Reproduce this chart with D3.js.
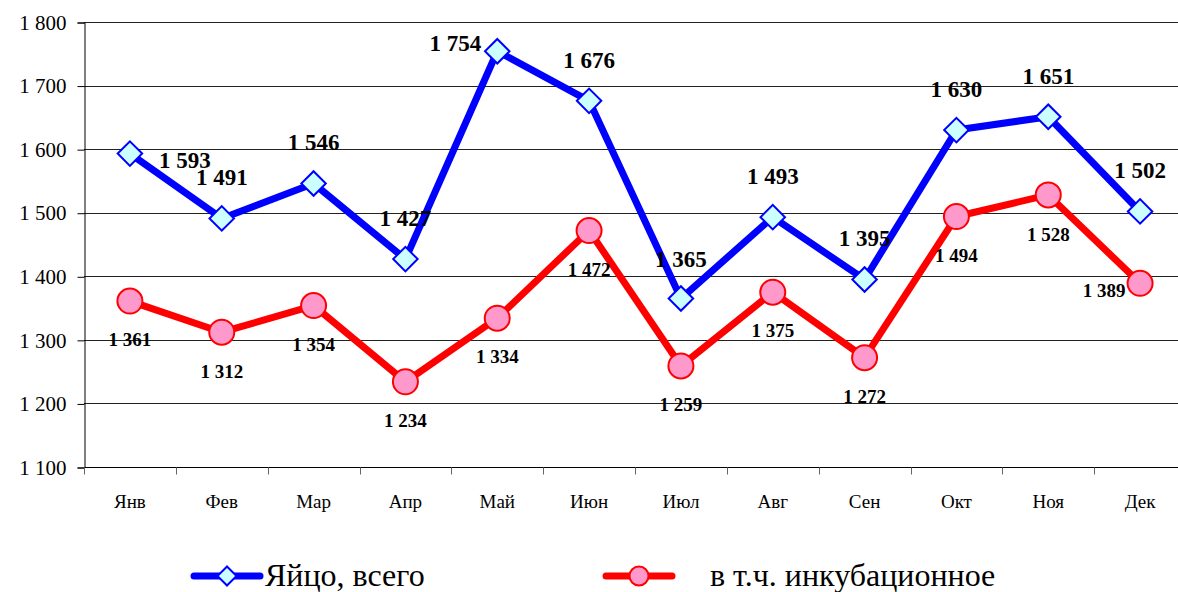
<!DOCTYPE html>
<html>
<head>
<meta charset="utf-8">
<script src="https://cdn.jsdelivr.net/npm/d3@7"></script>
</head>
<body style="margin:0">
<script>
// chart values
var months = ['Янв', 'Фев', 'Мар', 'Апр', 'Май', 'Июн', 'Июл', 'Авг', 'Сен', 'Окт', 'Ноя', 'Дек'];
var eggsTotal = [1593, 1491, 1546, 1427, 1754, 1676, 1365, 1493, 1395, 1630, 1651, 1502];
var eggsHatch = [1361, 1312, 1354, 1234, 1334, 1472, 1259, 1375, 1272, 1494, 1528, 1389];
var yTicks = [1100, 1200, 1300, 1400, 1500, 1600, 1700, 1800];
var seriesNames = ['Яйцо, всего', 'в т.ч. инкубационное'];

// label offsets (dx, dy from the point), as placed in the original
var totalLabelPos = [[55, 14], [0, -33], [0, -33], [0, -33], [-42, 0], [0, -33], [0, -32], [0, -33], [0, -33], [0, -33], [0, -33], [0, -33]];
var hatchLabelPos = [[0, 45], [0, 46], [0, 45], [0, 45], [0, 45], [0, 45], [0, 45], [0, 45], [0, 45], [0, 45], [0, 46], [-36, 14]];

var width = 1178, height = 592;
var plotLeft = 84, plotRight = 1186, plotTop = 22, plotBottom = 467;
var fontName = '"Liberation Serif", Tinos, "Times New Roman", serif';

var svg = d3.select('body').append('svg').attr('width', width).attr('height', height)
	.attr('font-family', fontName);

var x = d3.scaleBand().domain(months).range([plotLeft, plotRight]);
var y = d3.scaleLinear().domain([1100, 1800]).range([plotBottom, plotTop]);
var cx = d => x(d) + x.bandwidth() / 2;
var fmt = d => d3.format(',')(d).replace(',', ' ');

// grid lines
svg.append('g').selectAll('line').data(yTicks.slice(1)).enter().append('line')
	.attr('x1', plotLeft).attr('x2', plotRight)
	.attr('y1', d => Math.round(y(d)) + 0.5).attr('y2', d => Math.round(y(d)) + 0.5)
	.attr('stroke', '#222').attr('stroke-width', 1);

// y axis
var yAxis = svg.append('g').attr('transform', 'translate(' + (plotLeft + 0.5) + ',0.5)')
	.call(d3.axisLeft(y).tickValues(yTicks).tickSize(7).tickPadding(11).tickFormat(fmt));
yAxis.attr('font-family', fontName).attr('font-size', 21);
yAxis.select('.domain').attr('stroke', '#000');
yAxis.selectAll('line').attr('stroke', '#000');
yAxis.selectAll('text').attr('font-family', fontName).attr('fill', '#000');

// x axis with ticks on band boundaries
var xAxis = svg.append('g').attr('transform', 'translate(0,' + (Math.round(plotBottom) + 0.5) + ')');
xAxis.append('line').attr('x1', plotLeft).attr('x2', plotRight).attr('stroke', '#000');
xAxis.selectAll('.tk').data(months).enter().append('line').attr('class', 'tk')
	.attr('x1', d => Math.round(x(d)) + 0.5).attr('x2', d => Math.round(x(d)) + 0.5)
	.attr('y1', 0).attr('y2', 7).attr('stroke', '#666');
xAxis.selectAll('text').data(months).enter().append('text')
	.attr('x', cx).attr('y', 40).attr('text-anchor', 'middle')
	.attr('font-family', fontName).attr('font-size', 19).attr('fill', '#000').text(d => d);

var line = d3.line().x((d, i) => cx(months[i])).y(d => y(d));

// hatch eggs series
svg.append('path').datum(eggsHatch).attr('d', line)
	.attr('fill', 'none').attr('stroke', '#ff0000').attr('stroke-width', 7).attr('stroke-linejoin', 'round');
svg.append('g').selectAll('circle').data(eggsHatch).enter().append('circle')
	.attr('cx', (d, i) => cx(months[i])).attr('cy', d => y(d)).attr('r', 12.5)
	.attr('fill', '#ff99cc').attr('stroke', '#ff0000').attr('stroke-width', 2);

// total eggs series
svg.append('path').datum(eggsTotal).attr('d', line)
	.attr('fill', 'none').attr('stroke', '#0000ff').attr('stroke-width', 7).attr('stroke-linejoin', 'round');
var diamond = d3.symbol().type(d3.symbolSquare).size(300);
svg.append('g').selectAll('path').data(eggsTotal).enter().append('path')
	.attr('d', diamond)
	.attr('transform', (d, i) => 'translate(' + cx(months[i]) + ',' + y(d) + ') rotate(45)')
	.attr('fill', '#ccffff').attr('stroke', '#0000ff').attr('stroke-width', 2);

// data labels
svg.append('g').selectAll('text').data(eggsHatch).enter().append('text')
	.attr('x', (d, i) => cx(months[i]) + hatchLabelPos[i][0])
	.attr('y', (d, i) => y(d) + hatchLabelPos[i][1])
	.attr('text-anchor', 'middle').attr('font-family', fontName).attr('font-size', 19).attr('font-weight', 'bold')
	.attr('fill', '#000').text(fmt);
svg.append('g').selectAll('text').data(eggsTotal).enter().append('text')
	.attr('x', (d, i) => cx(months[i]) + totalLabelPos[i][0])
	.attr('y', (d, i) => y(d) + totalLabelPos[i][1])
	.attr('text-anchor', 'middle').attr('font-family', fontName).attr('font-size', 23).attr('font-weight', 'bold')
	.attr('fill', '#000').text(fmt);

// legend
var legend = svg.append('g').attr('transform', 'translate(0,576)');
var lg1 = legend.append('g').attr('transform', 'translate(194,0)');
lg1.append('line').attr('x1', 0).attr('x2', 66).attr('stroke', '#0000ff').attr('stroke-width', 7).attr('stroke-linecap', 'round');
lg1.append('path').attr('d', d3.symbol().type(d3.symbolSquare).size(180))
	.attr('transform', 'translate(33,0) rotate(45)')
	.attr('fill', '#ccffff').attr('stroke', '#0000ff').attr('stroke-width', 2);
lg1.append('text').attr('x', 71).attr('y', 10).attr('font-family', fontName).attr('font-size', 32)
	.attr('fill', '#000').text(seriesNames[0]);

var lg2 = legend.append('g').attr('transform', 'translate(606,0)');
lg2.append('line').attr('x1', 0).attr('x2', 66).attr('stroke', '#ff0000').attr('stroke-width', 7).attr('stroke-linecap', 'round');
lg2.append('circle').attr('cx', 33).attr('r', 9.5)
	.attr('fill', '#ff99cc').attr('stroke', '#ff0000').attr('stroke-width', 2);
lg2.append('text').attr('x', 104).attr('y', 10).attr('font-family', fontName).attr('font-size', 32)
	.attr('fill', '#000').text(seriesNames[1]);
</script>
</body>
</html>
